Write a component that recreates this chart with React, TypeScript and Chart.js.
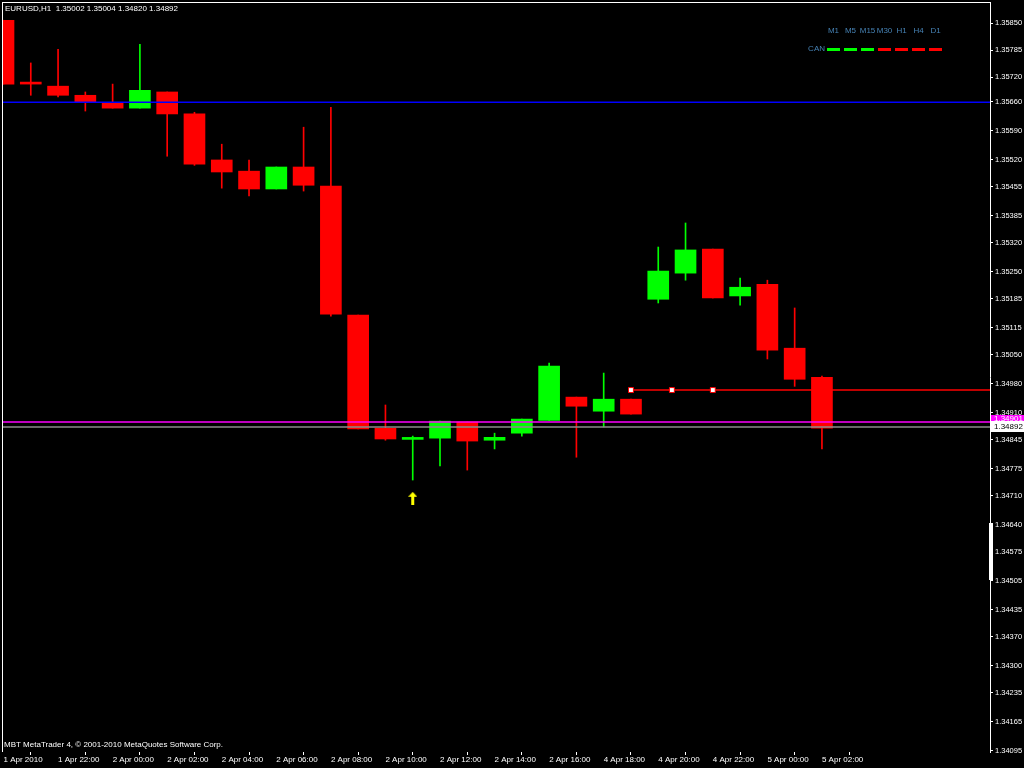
import React, { useEffect, useRef } from 'react';
import { Chart, registerables } from 'chart.js';

Chart.register(...registerables);

// ---------- data ----------
const SYMBOL = 'EURUSD,H1';
const HEADER_OHLC = ['1.35002', '1.35004', '1.34820', '1.34892'];
const COPYRIGHT = 'MBT MetaTrader 4, © 2001-2010 MetaQuotes Software Corp.';

const BAR_TIMES = [
  '1 Apr 20:00', '1 Apr 21:00', '1 Apr 22:00', '1 Apr 23:00',
  '2 Apr 00:00', '2 Apr 01:00', '2 Apr 02:00', '2 Apr 03:00', '2 Apr 04:00', '2 Apr 05:00',
  '2 Apr 06:00', '2 Apr 07:00', '2 Apr 08:00', '2 Apr 09:00', '2 Apr 10:00', '2 Apr 11:00',
  '2 Apr 12:00', '2 Apr 13:00', '2 Apr 14:00', '2 Apr 15:00', '2 Apr 16:00', '2 Apr 17:00',
  '4 Apr 18:00', '4 Apr 19:00', '4 Apr 20:00', '4 Apr 21:00', '4 Apr 22:00', '4 Apr 23:00',
  '5 Apr 00:00', '5 Apr 01:00', '5 Apr 02:00',
];

const OPEN = [1.35857, 1.35703, 1.35698, 1.35676, 1.35659, 1.35645, 1.35684, 1.35631, 1.35520, 1.35493, 1.35450, 1.35503, 1.35457, 1.35146, 1.34873, 1.34846, 1.34849, 1.34888, 1.34844, 1.34861, 1.34892, 1.34948, 1.34914, 1.34943, 1.35184, 1.35247, 1.35305, 1.35192, 1.35220, 1.35066, 1.34996];
const HIGH = [1.35857, 1.35754, 1.35787, 1.35684, 1.35703, 1.35799, 1.35684, 1.35635, 1.35558, 1.35520, 1.35503, 1.35599, 1.35647, 1.35146, 1.34929, 1.34854, 1.34890, 1.34888, 1.34861, 1.34895, 1.35030, 1.34948, 1.35006, 1.34943, 1.35310, 1.35368, 1.35305, 1.35235, 1.35230, 1.35163, 1.34999];
const LOW = [1.35703, 1.35676, 1.35672, 1.35638, 1.35645, 1.35645, 1.35529, 1.35507, 1.35452, 1.35433, 1.35450, 1.35445, 1.35143, 1.34871, 1.34844, 1.34748, 1.34782, 1.34772, 1.34823, 1.34854, 1.34892, 1.34803, 1.34876, 1.34907, 1.35175, 1.35230, 1.35187, 1.35170, 1.35040, 1.34974, 1.34823];
const CLOSE = [1.35703, 1.35703, 1.35676, 1.35659, 1.35645, 1.35688, 1.35631, 1.35510, 1.35491, 1.35450, 1.35503, 1.35459, 1.35148, 1.34871, 1.34847, 1.34847, 1.34890, 1.34842, 1.34851, 1.34895, 1.35023, 1.34926, 1.34943, 1.34907, 1.35252, 1.35303, 1.35187, 1.35213, 1.35061, 1.34991, 1.34873];

const X_TICK_INDEX = [0, 2, 4, 6, 8, 10, 12, 14, 16, 18, 20, 22, 24, 26, 28, 30];
const X_TICK_LABELS = [
  '1 Apr 2010', '1 Apr 22:00', '2 Apr 00:00', '2 Apr 02:00', '2 Apr 04:00', '2 Apr 06:00',
  '2 Apr 08:00', '2 Apr 10:00', '2 Apr 12:00', '2 Apr 14:00', '2 Apr 16:00', '4 Apr 18:00',
  '4 Apr 20:00', '4 Apr 22:00', '5 Apr 00:00', '5 Apr 02:00',
];
const Y_TICKS = [1.35850, 1.35785, 1.35720, 1.35660, 1.35590, 1.35520, 1.35455, 1.35385, 1.35320, 1.35250, 1.35185, 1.35115, 1.35050, 1.34980, 1.34910, 1.34845, 1.34775, 1.34710, 1.34640, 1.34575, 1.34505, 1.34435, 1.34370, 1.34300, 1.34235, 1.34165, 1.34095];

const BLUE_LEVEL = 1.35659;
const MAGENTA_LEVEL = 1.34888;
const MAGENTA_LABEL = '1.34901';
const BID_LEVEL = 1.34876;
const BID_LABEL = '1.34892';
const TREND_LEVEL = 1.34965;
const TREND_ANCHORS = [23, 24.5, 26];
const ARROW_INDEX = [15];
const ARROW_PRICE = [1.34704];

const TIMEFRAMES = ['M1', 'M5', 'M15', 'M30', 'H1', 'H4', 'D1'];
const CAN_SIGNALS = [1, 1, 1, -1, -1, -1, -1];
const CAN_LABEL = 'CAN';

// ---------- axis ranges ----------
const Y_MIN = 1.34092;
const Y_MAX = 1.35901;
const X_MIN = -0.055;
const X_MAX = 36.16;

const UP = '#00FF00';
const DOWN = '#FF0000';
const FONT = '"Liberation Sans", Arial, sans-serif';

const decorPlugin = {
  id: 'mt4decor',
  afterDraw(chart: any) {
    const { ctx, chartArea: a, scales } = chart;
    const ys = scales.y;
    ctx.save();
    // frame (top + left)
    ctx.fillStyle = '#FFFFFF';
    ctx.fillRect(a.left, a.top, a.right - a.left, 1);
    ctx.fillRect(a.left, a.top, 1, a.bottom - a.top);

    // header and copyright
    ctx.font = `8px ${FONT}`;
    ctx.textAlign = 'left';
    ctx.textBaseline = 'middle';
    ctx.fillStyle = '#FFFFFF';
    ctx.fillText(`${SYMBOL}  ${HEADER_OHLC.join(' ')}`, a.left + 3, a.top + 7);
    ctx.fillText(COPYRIGHT, a.left + 2, a.bottom - 7);

    // CAN indicator panel
    const dashStart = a.right - 163;
    ctx.fillStyle = '#4682B4';
    ctx.textAlign = 'center';
    TIMEFRAMES.forEach((tf, i) => {
      ctx.fillText(tf, dashStart + i * 17 + 6.5, 31);
    });
    ctx.textAlign = 'right';
    ctx.fillText(CAN_LABEL, dashStart - 2, 49);
    CAN_SIGNALS.forEach((s, i) => {
      ctx.fillStyle = s > 0 ? UP : DOWN;
      ctx.fillRect(dashStart + i * 17, 48, 13, 3);
    });

    // scroll marker on price axis
    ctx.fillStyle = '#FFFFFF';
    ctx.fillRect(a.right - 1, 523, 4, 57);

    // level labels on price axis
    const my = Math.round(ys.getPixelForValue(MAGENTA_LEVEL));
    const by = Math.round(ys.getPixelForValue(BID_LEVEL));
    ctx.textAlign = 'left';
    ctx.fillStyle = '#FF00FF';
    ctx.fillRect(a.right + 1, my - 7, 34, 8);
    ctx.fillStyle = '#FFFFFF';
    ctx.fillText(MAGENTA_LABEL, a.right + 4, my - 3);
    ctx.fillStyle = '#FFFFFF';
    ctx.fillRect(a.right + 1, by - 6, 34, 11);
    ctx.fillStyle = '#000000';
    ctx.fillText(BID_LABEL, a.right + 4, by);
    ctx.restore();
  },
};

function makeArrow(): HTMLCanvasElement {
  const c = document.createElement('canvas');
  c.width = 9;
  c.height = 13;
  const g = c.getContext('2d')!;
  g.fillStyle = '#FFFF00';
  g.beginPath();
  g.moveTo(4.5, 0);
  g.lineTo(9, 5);
  g.lineTo(0, 5);
  g.closePath();
  g.fill();
  g.fillRect(3, 4, 3, 9);
  return c;
}

const zeroPad = (s: any) => {
  s.paddingTop = 0;
  s.paddingBottom = 0;
  s.paddingLeft = 0;
  s.paddingRight = 0;
};

export default function App() {
  const ref = useRef<HTMLCanvasElement | null>(null);

  useEffect(() => {
    if (!ref.current) return;
    const idx = BAR_TIMES.map((_, i) => i);
    const colors = idx.map((i) => (CLOSE[i] > OPEN[i] ? UP : DOWN));
    const arrow = makeArrow();
    const font = { family: FONT, size: 8 };

    const chart = new Chart(ref.current, {
      type: 'bar',
      data: {
        datasets: [
          {
            type: 'line',
            label: 'blue',
            data: [{ x: X_MIN, y: BLUE_LEVEL }, { x: X_MAX, y: BLUE_LEVEL }],
            borderColor: '#0000FF',
            borderWidth: 1.5,
            pointRadius: 0,
            order: 0,
          },
          {
            type: 'line',
            label: 'magenta',
            data: [{ x: X_MIN, y: MAGENTA_LEVEL }, { x: X_MAX, y: MAGENTA_LEVEL }],
            borderColor: '#FF00FF',
            borderWidth: 1.5,
            pointRadius: 0,
            order: 0,
          },
          {
            type: 'line',
            label: 'bid',
            data: [{ x: X_MIN, y: BID_LEVEL }, { x: X_MAX, y: BID_LEVEL }],
            borderColor: '#8C8C8C',
            borderWidth: 1.5,
            pointRadius: 0,
            order: 0,
          },
          {
            type: 'line',
            label: 'trend',
            data: [...TREND_ANCHORS.map((x) => ({ x, y: TREND_LEVEL })), { x: X_MAX, y: TREND_LEVEL }],
            borderColor: '#FF0000',
            borderWidth: 1.5,
            pointStyle: 'rect',
            pointRadius: [...TREND_ANCHORS.map(() => 3.5), 0],
            pointBackgroundColor: '#FFFFFF',
            pointBorderColor: '#FF0000',
            pointBorderWidth: 1,
            order: 0,
          },
          {
            type: 'line',
            label: 'arrow',
            data: ARROW_INDEX.map((x, k) => ({ x, y: ARROW_PRICE[k] })),
            showLine: false,
            pointStyle: arrow,
            pointRadius: 6,
            order: 0,
          },
          {
            type: 'bar',
            label: 'bodies',
            data: idx.map((i) => ({ x: i, y: [OPEN[i], CLOSE[i]] })),
            backgroundColor: colors,
            borderWidth: 0,
            barThickness: 21,
            minBarLength: 2,
            grouped: false,
            order: 1,
          },
          {
            type: 'bar',
            label: 'wicks',
            data: idx.map((i) => ({ x: i, y: [LOW[i], HIGH[i]] })),
            backgroundColor: colors,
            borderWidth: 0,
            barThickness: 1,
            grouped: false,
            order: 2,
          },
        ] as any,
      },
      options: {
        animation: false,
        responsive: false,
        events: [],
        layout: { autoPadding: false, padding: { left: 2, top: 2, right: 0, bottom: 0 } },
        plugins: {
          legend: { display: false },
          tooltip: { enabled: false },
          title: { display: false },
        },
        scales: {
          x: {
            type: 'linear',
            min: X_MIN,
            max: X_MAX,
            offset: false,
            bounds: 'data',
            afterBuildTicks: (s: any) => {
              s.ticks = X_TICK_INDEX.map((v) => ({ value: v }));
            },
            afterFit: (s: any) => {
              s.height = 16;
              zeroPad(s);
            },
            ticks: {
              autoSkip: false,
              maxRotation: 0,
              minRotation: 0,
              align: 'start',
              padding: 0,
              color: '#FFFFFF',
              font,
              callback: (_v: any, i: number) => X_TICK_LABELS[i],
            },
            grid: { drawOnChartArea: false, drawTicks: true, tickLength: 3, color: '#FFFFFF' },
            border: { display: false },
          },
          y: {
            type: 'linear',
            position: 'right',
            min: Y_MIN,
            max: Y_MAX,
            bounds: 'data',
            afterBuildTicks: (s: any) => {
              s.ticks = Y_TICKS.map((v) => ({ value: v }));
            },
            afterFit: (s: any) => {
              s.width = 34;
              zeroPad(s);
            },
            ticks: {
              color: '#FFFFFF',
              padding: 2,
              font: { family: FONT, size: 7.5 },
              callback: (v: any) => Number(v).toFixed(5),
            },
            grid: { drawOnChartArea: false, drawTicks: true, tickLength: 3, color: '#FFFFFF' },
            border: { display: true, color: '#FFFFFF' },
          },
        } as any,
      },
      plugins: [decorPlugin],
    } as any);

    return () => chart.destroy();
  }, []);

  return (
    <div style={{ position: 'fixed', left: 0, top: 0, width: 1024, height: 768, background: '#000000' }}>
      <canvas ref={ref} width={1024} height={768} style={{ display: 'block' }} />
    </div>
  );
}
